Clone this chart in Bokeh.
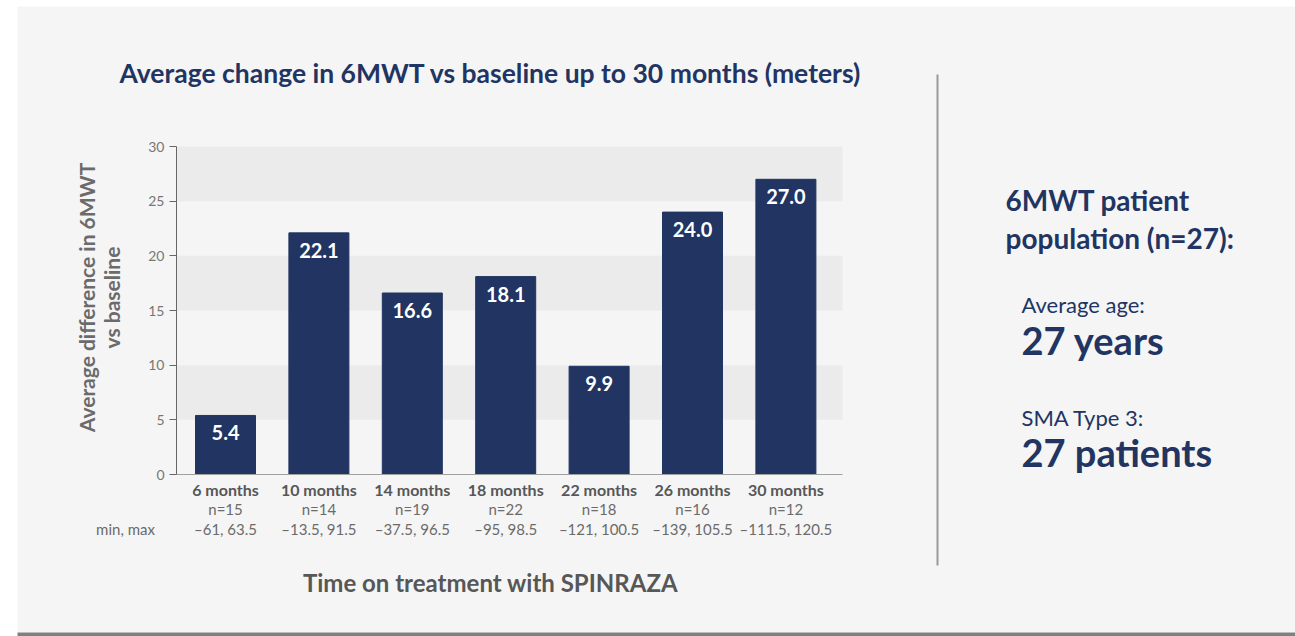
import math
from bokeh.plotting import figure
from bokeh.models import (ColumnDataSource, Range1d, FixedTicker, BoxAnnotation, Label)
from bokeh.embed import file_html
from bokeh.resources import INLINE
from bokeh.core.properties import value

# ---------------- data ----------------
months = ["6 months", "10 months", "14 months", "18 months",
          "22 months", "26 months", "30 months"]
avg_change = [5.4, 22.1, 16.6, 18.1, 9.9, 24.0, 27.0]
n_patients = [15, 14, 19, 22, 18, 16, 12]
min_max = ["\u201361, 63.5", "\u201313.5, 91.5", "\u201337.5, 96.5", "\u201395, 98.5",
           "\u2013121, 100.5", "\u2013139, 105.5", "\u2013111.5, 120.5"]
y_ticks = [0, 5, 10, 15, 20, 25, 30]

title_text = "Average change in 6MWT vs baseline up to 30 months (meters)"
y_title = "Average difference in 6MWT\nvs baseline"
x_title = "Time on treatment with SPINRAZA"
range_title = "min, max"
side_head1 = "6MWT patient"
side_head2 = "population (n=27):"
side_items = [("Average age:", "27 years"), ("SMA Type 3:", "27 patients")]

# ---------------- layout (page pixels -> data units) ----------------
W, H = 1295, 636
X0_PAGE, X_STEP = 225.0, 93.4          # centre of first category, category spacing
Y0_PAGE, Y30_PAGE = 474.0, 146.0       # pixel rows of value 0 and 30
PXU_Y = (Y0_PAGE - Y30_PAGE) / 30.0


def xd(page_x):
    return (page_x - X0_PAGE) / X_STEP


def yd(page_y):
    return (Y0_PAGE - page_y) / PXU_Y


BG = "#f5f5f5"
BAND = "#ebebeb"
NAVY = "#213462"
DARK = "#575757"
MID = "#6b6b6b"
FONT = "Lato"

idx = list(range(len(months)))
src = ColumnDataSource(dict(
    pos=idx,
    change=avg_change,
    change_label=["%.1f" % v for v in avg_change],
    n_label=["n=%d" % n for n in n_patients],
    range_label=min_max,
))

p = figure(x_range=Range1d(xd(0), xd(W)), y_range=Range1d(yd(H), yd(0)),
           width=W, height=H, output_backend="svg", toolbar_location=None,
           min_border=0, min_border_left=0, min_border_right=0,
           min_border_top=0, min_border_bottom=0)
p.background_fill_color = "white"
p.border_fill_color = "white"
p.outline_line_color = None
p.xgrid.visible = False
p.ygrid.visible = False


def box(l, r, t, b, color):
    p.add_layout(BoxAnnotation(left=xd(l), right=xd(r), top=yd(t), bottom=yd(b),
                               fill_color=color, fill_alpha=1, line_color=None,
                               level="underlay"))


# panel background, bottom rule, bands, separator
box(17, W + 5, 6, 632, BG)
box(17, W + 5, 632, H + 5, "#808080")
for lo in (5, 15, 25):
    p.add_layout(BoxAnnotation(left=xd(176), right=xd(842), bottom=lo, top=lo + 5,
                               fill_color=BAND, fill_alpha=1, line_color=None,
                               level="underlay"))
box(936, 938, 74, 565, "#9a9a9a")

# y axis (drawn at the left edge of the plotting area)
ya = p.yaxis[0]
ya.fixed_location = xd(176)
ya.ticker = FixedTicker(ticks=y_ticks)
ya.bounds = (0, 30)
ya.axis_line_color = "#666666"
ya.major_tick_line_color = "#666666"
ya.major_tick_out = 7
ya.major_tick_in = 0
ya.minor_tick_line_color = None
ya.major_label_text_font = FONT
ya.major_label_text_font_size = "14px"
ya.major_label_text_color = "#777777"
ya.major_label_standoff = 5

# x axis at value 0
xa = p.xaxis[0]
xa.fixed_location = 0
xa.ticker = FixedTicker(ticks=idx)
xa.major_label_overrides = {i: m for i, m in zip(idx, months)}
xa.bounds = (xd(176), xd(842))
xa.axis_line_color = "#a0a0a0"
xa.major_tick_line_color = None
xa.major_tick_out = 0
xa.major_tick_in = 0
xa.minor_tick_line_color = None
xa.major_label_text_font = FONT
xa.major_label_text_font_size = "16px"
xa.major_label_text_font_style = "bold"
xa.major_label_text_color = DARK
xa.major_label_standoff = 5

# bars
p.vbar(x="pos", top="change", width=60 / X_STEP, source=src, color=NAVY)

# value labels inside bars
p.text(x="pos", y="change", text="change_label", source=src,
       text_align="center", text_baseline="top", y_offset=10,
       text_font=value(FONT), text_font_style="bold", text_font_size="20px",
       text_color="white")

# n and min/max lines under the categories
p.text(x="pos", y=yd(508), text="n_label", source=src,
       text_align="center", text_baseline="middle",
       text_font=value(FONT), text_font_size="15px", text_color=MID)
p.text(x="pos", y=yd(528), text="range_label", source=src,
       text_align="center", text_baseline="middle",
       text_font=value(FONT), text_font_size="15px", text_color=MID)


def lab(text, page_x, page_y, size, color, style="normal", align="left",
        angle=0.0, line_height=1.2):
    p.add_layout(Label(x=xd(page_x), y=yd(page_y), text=text, text_font=FONT,
                       text_font_size=size, text_font_style=style,
                       text_color=color, text_align=align,
                       text_baseline="middle", angle=angle,
                       text_line_height=line_height))


lab(range_title, 125, 528, "15px", MID, align="center")
lab(title_text, 119, 72, "26.5px", NAVY, "bold")
lab(x_title, 490, 582, "24px", DARK, "bold", align="center")
lab(y_title, 98, 297, "21px", MID, "bold", align="center",
    angle=math.pi / 2, line_height=1.0)

# right panel
lab(side_head1, 1005, 199, "28px", NAVY, "bold")
lab(side_head2, 1005, 237, "28px", NAVY, "bold")
lab(side_items[0][0], 1021, 304, "22px", NAVY)
lab(side_items[0][1], 1021, 339, "38px", NAVY, "bold")
lab(side_items[1][0], 1021, 417, "22px", NAVY)
lab(side_items[1][1], 1021, 451, "38px", NAVY, "bold")

open("out.html", "w").write(file_html(p, INLINE))
